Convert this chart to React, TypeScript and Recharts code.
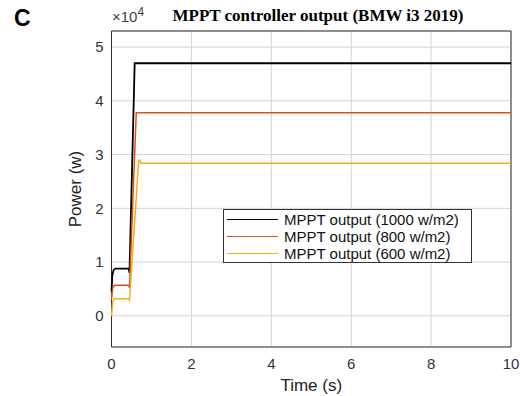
import React from 'react';
import { LineChart, Line, XAxis, YAxis, CartesianGrid, ReferenceArea, Legend } from 'recharts';

// time (s) and power (W)
const blackT = [0, 0.02, 0.05, 0.1, 0.43, 0.45, 0.58, 10];
const blackP = [4500, 7500, 8500, 8800, 8800, 8000, 47000, 47000];
const redT = [0, 0.03, 0.08, 0.43, 0.45, 0.62, 10];
const redP = [3000, 5200, 5700, 5700, 5200, 37800, 37800];
const yellowT = [0, 0.03, 0.08, 0.43, 0.45, 0.68, 0.7, 0.74, 10];
const yellowP = [0, 2600, 3200, 3200, 2900, 28800, 29000, 28400, 28400];

const xTicks = [0, 2, 4, 6, 8, 10];
const yTicks = [0, 10000, 20000, 30000, 40000, 50000];
const seriesNames = ['MPPT output (1000 w/m2)', 'MPPT output (800 w/m2)', 'MPPT output (600 w/m2)'];
const colors = ['#000000', '#d95319', '#edb120'];

const zip = (t: number[], p: number[]) => t.map((x, i) => ({ t: x, p: p[i] }));
const series = [zip(blackT, blackP), zip(redT, redP), zip(yellowT, yellowP)];

const font = '"Liberation Sans", Arial, sans-serif';

const LegendBox = () => (
  <div style={{ boxSizing: 'border-box', border: '1px solid #333', background: '#fff', padding: '1px 0 0 3px', fontFamily: font, fontSize: 15, color: '#111', width: 249, height: 54, whiteSpace: 'nowrap' }}>
    {seriesNames.map((n, i) => (
      <div key={n} style={{ display: 'flex', alignItems: 'center', height: 17 }}>
        <span style={{ display: 'inline-block', width: 51, height: 0, borderTop: `1px solid ${colors[i]}`, marginRight: 6 }} />
        <span>{n}</span>
      </div>
    ))}
  </div>
);

export default function App() {
  return (
    <div style={{ position: 'absolute', left: 0, top: 0, width: 520, height: 396, background: '#fff' }}>
      <div style={{ position: 'absolute', left: 14, top: 5, fontFamily: font, fontWeight: 'bold', fontSize: 23 }}>C</div>
      <div style={{ position: 'absolute', left: 112, top: 5, fontFamily: font, fontSize: 15, color: '#444' }}>
        ×10<sup style={{ fontSize: 12 }}>4</sup>
      </div>
      <div style={{ position: 'absolute', left: 0, width: 636, top: 6, textAlign: 'center', fontFamily: '"Liberation Serif", "Times New Roman", serif', fontWeight: 'bold', fontSize: 17 }}>
        MPPT controller output (BMW i3 2019)
      </div>
      <LineChart width={520} height={396} margin={{ top: 31, right: 9, bottom: 0, left: 0 }} style={{ position: 'absolute', left: 0, top: 0 }}>
        <CartesianGrid stroke="#d4d4d4" />
        <XAxis
          dataKey="t"
          type="number"
          domain={[0, 10]}
          ticks={xTicks}
          height={49}
          tickLine={false}
          tickSize={0}
          tickMargin={11}
          axisLine={false}
          tick={{ fill: '#333', fontSize: 15, fontFamily: font }}
          label={{ value: 'Time (s)', position: 'insideBottom', offset: 5, fill: '#222', fontSize: 17, fontFamily: font }}
          allowDuplicatedCategory={false}
        />
        <YAxis
          type="number"
          domain={[-5800, 53000]}
          ticks={yTicks}
          width={111.5}
          tickLine={false}
          tickSize={0}
          tickMargin={8}
          axisLine={false}
          tickFormatter={(v: number) => String(v / 10000)}
          tick={{ fill: '#333', fontSize: 15, fontFamily: font }}
          label={{ value: 'Power (w)', angle: -90, position: 'insideLeft', offset: 75, fill: '#222', fontSize: 17, fontFamily: font, style: { textAnchor: 'middle' } }}
        />
        <ReferenceArea x1={0} x2={10} y1={-5800} y2={53000} fill="none" stroke="#333" strokeWidth={1} ifOverflow="extendDomain" />
        {series.map((d, i) => (
          <Line
            key={seriesNames[i]}
            data={d}
            dataKey="p"
            name={seriesNames[i]}
            stroke={colors[i]}
            strokeWidth={i === 0 ? 1.8 : 1.5}
            dot={false}
            isAnimationActive={false}
            type="linear"
          />
        ))}
        <Legend
          layout="horizontal"
          verticalAlign="middle"
          align="center"
          content={() => <LegendBox />}
          wrapperStyle={{ left: 223, top: 209, width: 'auto' }}
        />
      </LineChart>
    </div>
  );
}
